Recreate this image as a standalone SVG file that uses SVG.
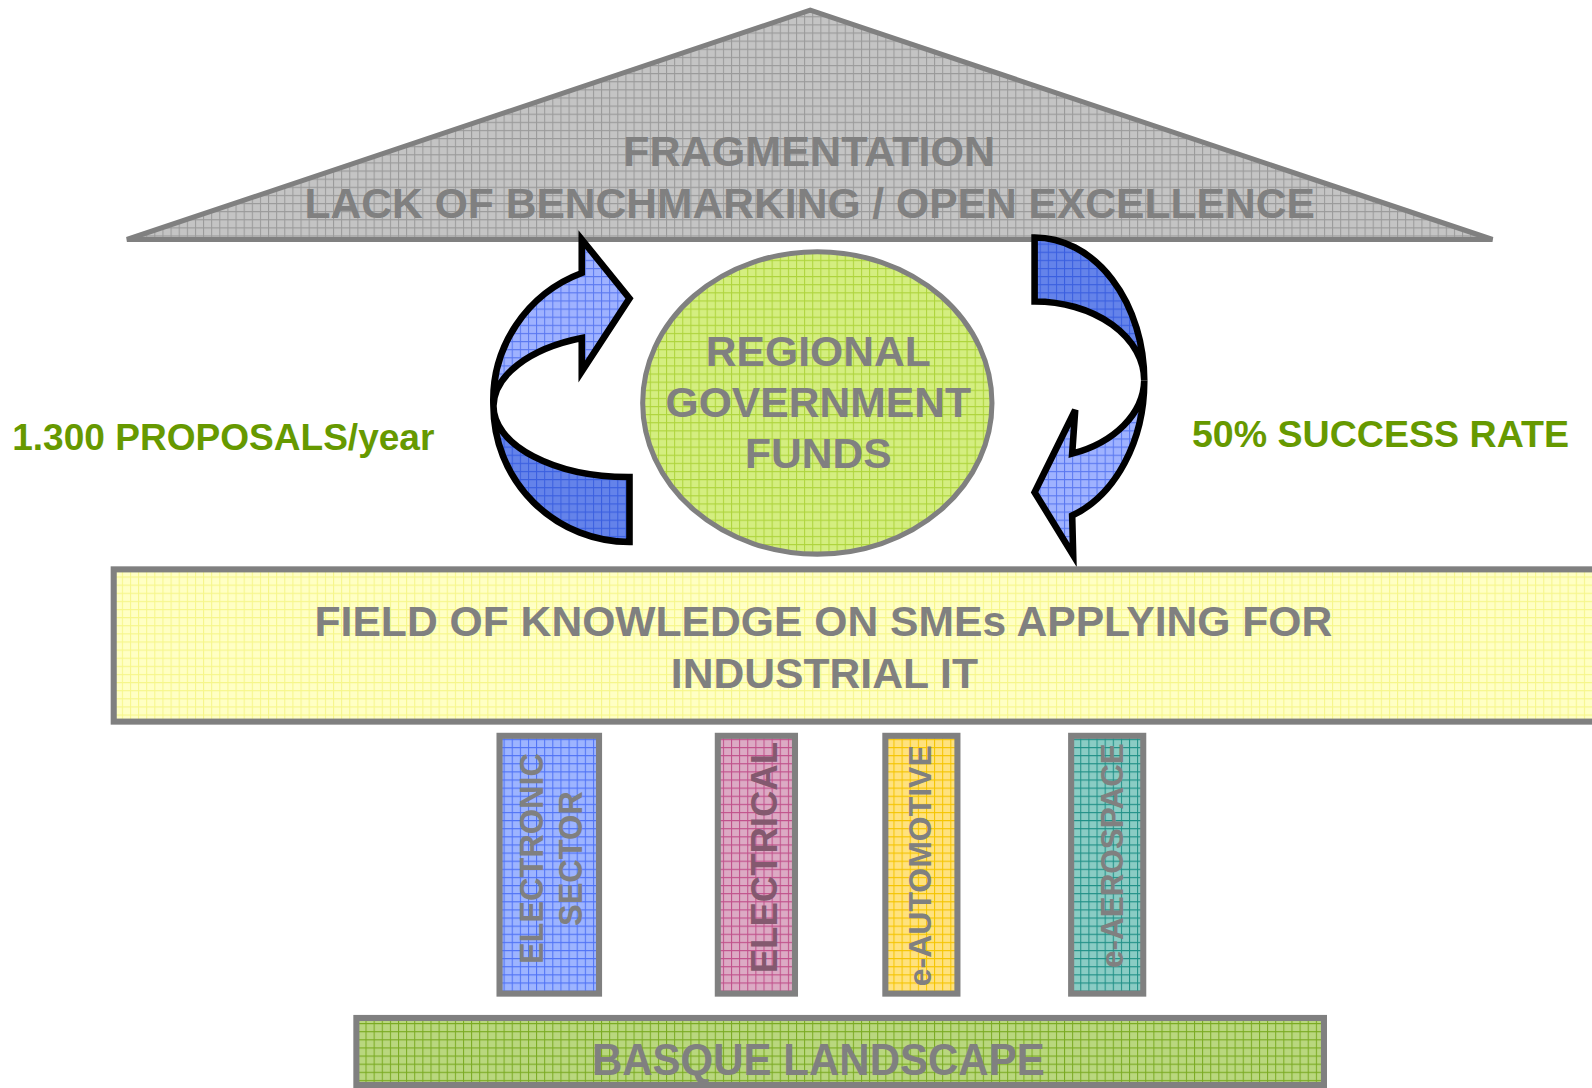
<svg xmlns="http://www.w3.org/2000/svg" width="1592" height="1088" viewBox="0 0 1592 1088">
<style>
.t{font-family:"Liberation Sans",Arial,sans-serif;font-weight:bold;fill:#808080}
.g{font-family:"Liberation Sans",Arial,sans-serif;font-weight:bold;fill:#669900}
.box{stroke:#808080;stroke-width:6}
.arr{stroke:#000;stroke-width:6.5;stroke-linejoin:miter}
</style>
<defs>
<pattern id="pGray" patternUnits="userSpaceOnUse" width="8" height="8"><rect width="8" height="8" fill="#c4c4c4"/><path d="M0 .5H8M.5 0V8" stroke="#9a9a9a" stroke-width="1"/></pattern>
<pattern id="pLime" patternUnits="userSpaceOnUse" width="8" height="8"><rect width="8" height="8" fill="#d4ee80"/><path d="M0 .5H8M.5 0V8" stroke="#aed43c" stroke-width="1"/></pattern>
<pattern id="pCream" patternUnits="userSpaceOnUse" width="8" height="8"><rect width="8" height="8" fill="#ffffc4"/><path d="M0 .5H8M.5 0V8" stroke="#f6f68a" stroke-width="1"/></pattern>
<pattern id="pBlue" patternUnits="userSpaceOnUse" width="8" height="8"><rect width="8" height="8" fill="#9db4ff"/><path d="M0 .5H8M.5 0V8" stroke="#4f72f5" stroke-width="1"/></pattern>
<pattern id="pPink" patternUnits="userSpaceOnUse" width="8" height="8"><rect width="8" height="8" fill="#dcaac4"/><path d="M0 .5H8M.5 0V8" stroke="#c0508a" stroke-width="1"/></pattern>
<pattern id="pYel" patternUnits="userSpaceOnUse" width="8" height="8"><rect width="8" height="8" fill="#ffe27e"/><path d="M0 .5H8M.5 0V8" stroke="#f5c400" stroke-width="1"/></pattern>
<pattern id="pTeal" patternUnits="userSpaceOnUse" width="8" height="8"><rect width="8" height="8" fill="#8accc4"/><path d="M0 .5H8M.5 0V8" stroke="#1f8f86" stroke-width="1"/></pattern>
<pattern id="pGreen" patternUnits="userSpaceOnUse" width="8" height="8"><rect width="8" height="8" fill="#b9d77e"/><path d="M0 .5H8M.5 0V8" stroke="#7aaa22" stroke-width="1"/></pattern>
<pattern id="pArrL" patternUnits="userSpaceOnUse" width="8" height="8"><rect width="8" height="8" fill="#9fb2ff"/><path d="M0 .5H8M.5 0V8" stroke="#5a78f0" stroke-width="1"/></pattern>
<pattern id="pArrD" patternUnits="userSpaceOnUse" width="8" height="8"><rect width="8" height="8" fill="#6483ea"/><path d="M0 .5H8M.5 0V8" stroke="#3a5fe0" stroke-width="1"/></pattern>
</defs>
<g transform="scale(1.015306,1.014925)">
<g id="roof">
<polygon points="798,10 1470,236 125,236" fill="url(#pGray)" stroke="#808080" stroke-width="5" stroke-linejoin="miter"/>
<text class="t" x="797" y="164" font-size="42.5" text-anchor="middle">FRAGMENTATION</text>
<text class="t" x="797.5" y="215" font-size="42" text-anchor="middle" textLength="995" lengthAdjust="spacingAndGlyphs">LACK OF BENCHMARKING / OPEN EXCELLENCE</text>
</g>
<g id="funds">
<ellipse cx="805" cy="397" rx="172" ry="149" fill="url(#pLime)" stroke="#808080" stroke-width="5"/>
<text class="t" x="806" y="361" font-size="42" text-anchor="middle">REGIONAL</text>
<text class="t" x="806" y="411" font-size="42" text-anchor="middle">GOVERNMENT</text>
<text class="t" x="806" y="461" font-size="42" text-anchor="middle">FUNDS</text>
</g>
<g id="connectors">
<g id="arrow-left">
<path class="arr" fill="url(#pArrD)" d="M486,400 A134,134 0 0 0 620,534 L620,470 A133,70 0 0 1 486,400 Z"/>
<path class="arr" fill="url(#pArrL)" d="M573,269 A135,134 0 0 0 486,400 A133,72 0 0 1 573,333 L573,366 L620,294 L573,236 Z"/>
</g>
<g id="arrow-right">
<path class="arr" fill="url(#pArrD)" d="M1019,234 A108,141 0 0 1 1127,375 A108,78 0 0 0 1019,297 Z"/>
<path class="arr" fill="url(#pArrL)" d="M1127,375 A108,141 0 0 1 1056,508 L1057,547 L1019,485 L1059,404 L1056,447 A108,78 0 0 0 1127,375 Z"/>
</g>
</g>
<g id="label-proposals"><text class="g" x="12" y="443" font-size="36.5">1.300 PROPOSALS/year</text></g>
<g id="label-success"><text class="g" x="1174" y="440" font-size="37">50% SUCCESS RATE</text></g>
<g id="field">
<rect class="box" x="112" y="561" width="1500" height="150" fill="url(#pCream)"/>
<text class="t" x="811" y="627" font-size="42" text-anchor="middle">FIELD OF KNOWLEDGE ON SMEs APPLYING FOR</text>
<text class="t" x="812" y="678" font-size="42" text-anchor="middle">INDUSTRIAL IT</text>
</g>
<g id="pillar-electronic">
<rect class="box" x="492" y="725" width="98" height="254" fill="url(#pBlue)"/>
<text class="t" transform="translate(535,846) rotate(-90)" font-size="32" text-anchor="middle">ELECTRONIC</text>
<text class="t" transform="translate(573,846) rotate(-90)" font-size="32" text-anchor="middle">SECTOR</text>
</g>
<g id="pillar-electrical">
<rect class="box" x="707" y="725" width="76" height="254" fill="url(#pPink)"/>
<text class="t" transform="translate(765,845) rotate(-90)" font-size="36" text-anchor="middle" style="fill:#84596f">ELECTRICAL</text>
</g>
<g id="pillar-automotive">
<rect class="box" x="872" y="725" width="71" height="254" fill="url(#pYel)"/>
<text class="t" transform="translate(917,853) rotate(-90)" font-size="31.5" text-anchor="middle">e-AUTOMOTIVE</text>
</g>
<g id="pillar-aerospace">
<rect class="box" x="1055" y="725" width="71" height="254" fill="url(#pTeal)"/>
<text class="t" transform="translate(1106,843) rotate(-90)" font-size="31" text-anchor="middle">e-AEROSPACE</text>
</g>
<g id="basque">
<rect class="box" x="351" y="1003" width="953" height="66" fill="url(#pGreen)"/>
<text class="t" x="806" y="1059" font-size="44" text-anchor="middle" textLength="446" lengthAdjust="spacingAndGlyphs">BASQUE LANDSCAPE</text>
</g>
</g>
</svg>
